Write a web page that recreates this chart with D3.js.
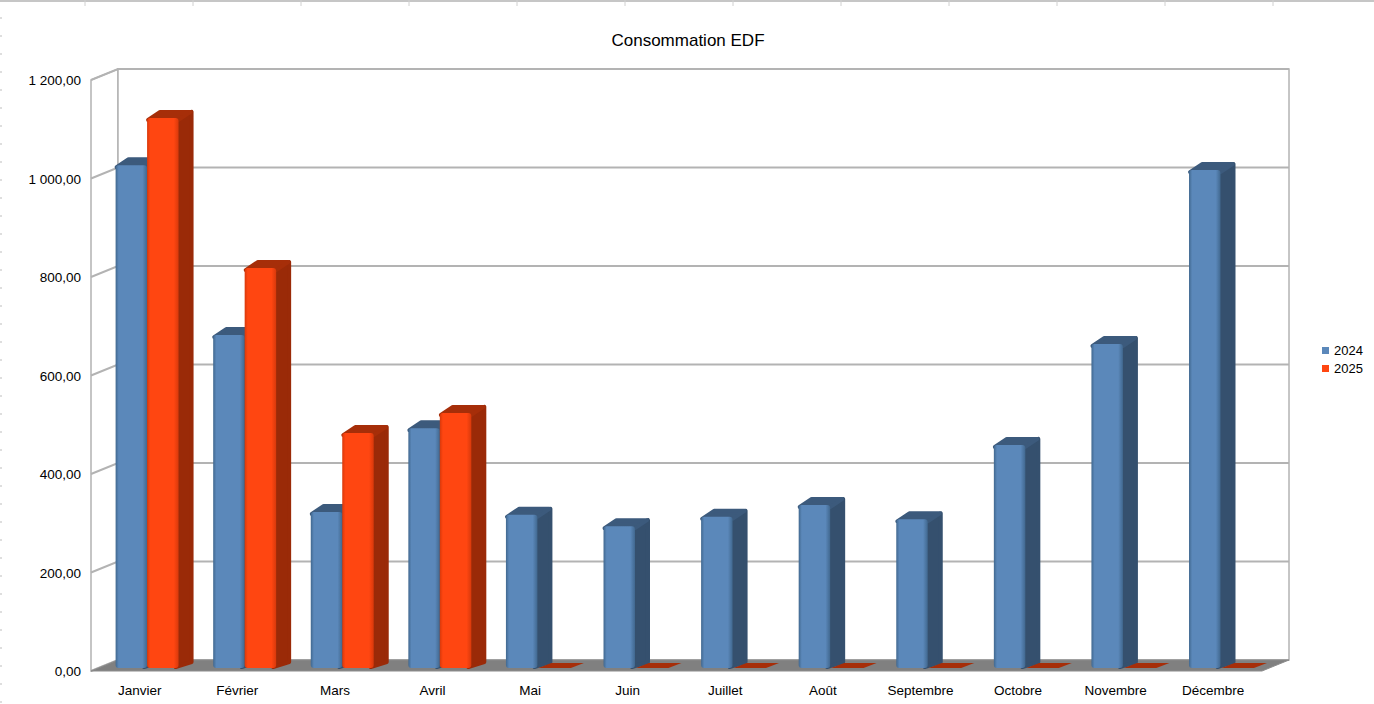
<!DOCTYPE html>
<html>
<head>
<meta charset="utf-8">
<script src="https://cdn.jsdelivr.net/npm/d3@7"></script>
<style>
    body { margin: 0; background: #fff; }
    svg { display: block; font-family: "Liberation Sans", Arial, sans-serif; }
</style>
</head>
<body>
<div data-chart></div>
<script>
const months = ['Janvier', 'Février', 'Mars', 'Avril', 'Mai', 'Juin', 'Juillet', 'Août', 'Septembre', 'Octobre', 'Novembre', 'Décembre']
const series = ['2024', '2025']
const values2024 = [1021, 676, 317, 487, 311, 288, 307, 331, 302, 453, 658, 1011]
const values2025 = [1117, 812, 477, 518, 0, 0, 0, 0, 0, 0, 0, 0]
const yTicks = [0, 200, 400, 600, 800, 1000, 1200]

const W = 1374, H = 704
// depth of the back wall, and of the bars
const DX = 27, DY = -11
const BAR_F = 0.27
const BDX = 13, BDY = -7

const colors = {
    '2024': { front: '#5b88ba', edge: '#41688f', side: '#35506e', top: '#3c5a7c' },
    '2025': { front: '#ff4611', edge: '#d8390b', side: '#9a2a08', top: '#a62e09' }
}

const locale = d3.formatLocale({ decimal: ',', thousands: ' ', grouping: [3], currency: ['', ' €'] })
const fmt = locale.format(',.2f')

let svg = d3.select('[data-chart]').append('svg')
    .attr('width', W)
    .attr('height', H)

// spreadsheet cell borders around the chart
svg.append('line')
    .attr('x1', 0).attr('x2', W).attr('y1', 1).attr('y2', 1)
    .attr('stroke', '#c6c6c6').attr('stroke-width', 2)
svg.append('g').selectAll('line')
    .data(d3.range(85, W, 108))
    .enter().append('line')
    .attr('x1', d => d).attr('x2', d => d).attr('y1', 0).attr('y2', 6)
    .attr('stroke', '#d0d0d0')
svg.append('g').selectAll('line')
    .data(d3.range(18, H, 18))
    .enter().append('line')
    .attr('x1', 0).attr('x2', 2).attr('y1', d => d).attr('y2', d => d)
    .attr('stroke', '#bdbdbd')

let x = d3.scaleBand().domain(months).range([91, 1262])
let xs = d3.scaleBand().domain(series).range([0, x.bandwidth()]).paddingOuter(0.55)
let y = d3.scaleLinear().domain([0, 1200]).range([671, 80])

const gridColor = '#b3b3b3'

// walls
svg.append('polygon')
    .attr('points', [[91, y(1200)], [91 + DX, y(1200) + DY], [91 + DX, y(0) + DY], [91, y(0)]].join(' '))
    .attr('fill', '#fff').attr('stroke', gridColor).attr('stroke-width', 1.5)
svg.append('rect')
    .attr('x', 91 + DX).attr('y', y(1200) + DY)
    .attr('width', 1262 - 91).attr('height', y(0) - y(1200))
    .attr('fill', '#fff').attr('stroke', gridColor).attr('stroke-width', 1.5)

// gridlines
svg.append('g').selectAll('polyline')
    .data(yTicks)
    .enter().append('polyline')
    .attr('points', d => [[91, y(d)], [91 + DX, y(d) + DY], [1262 + DX, y(d) + DY]].join(' '))
    .attr('fill', 'none').attr('stroke', gridColor).attr('stroke-width', 2)

// floor
svg.append('polygon')
    .attr('points', [[91, y(0)], [1262, y(0)], [1262 + DX, y(0) + DY], [91 + DX, y(0) + DY]].join(' '))
    .attr('fill', '#808080').attr('stroke', '#8c8c8c').attr('stroke-width', 1)

// y axis labels
svg.append('g').selectAll('text')
    .data(yTicks)
    .enter().append('text')
    .attr('x', 81).attr('y', d => y(d) + 5)
    .attr('text-anchor', 'end')
    .style('font-size', '13.5px')
    .text(d => fmt(d))

// gradients for the bar fronts
let defs = svg.append('defs')
series.forEach(s => {
    let g = defs.append('linearGradient').attr('id', 'grad' + s)
        .attr('x1', 0).attr('x2', 1).attr('y1', 0).attr('y2', 0)
    g.append('stop').attr('offset', '0%').attr('stop-color', colors[s].edge)
    g.append('stop').attr('offset', '10%').attr('stop-color', colors[s].front)
    g.append('stop').attr('offset', '85%').attr('stop-color', colors[s].front)
    g.append('stop').attr('offset', '100%').attr('stop-color', colors[s].edge)
})

let bars = []
months.forEach((m, i) => {
    bars.push({ month: m, serie: '2024', value: values2024[i] })
    bars.push({ month: m, serie: '2025', value: values2025[i] })
})

let offX = DX * BAR_F, offY = DY * BAR_F
let barG = svg.append('g')

bars.forEach(d => {
    let x0 = x(d.month) + xs(d.serie) + offX
    let x1 = x0 + xs.bandwidth()
    let yb = y(0) + offY
    let yt = y(d.value) + offY
    let c = colors[d.serie]
    let g = barG.append('g')

    if (d.value <= 0) {
        g.append('polygon')
            .attr('points', [[x0 + 1, yb], [x0 + 1 + BDX, yb + BDY + 2], [x1 + BDX + 2, yb + BDY + 2], [x1 + 2, yb]].join(' '))
            .attr('fill', c.top)
        return
    }

    // side face
    g.append('polygon')
        .attr('points', [[x1 - 3, yt + 1], [x1 + BDX, yt + BDY + 1], [x1 + BDX, yb + BDY + 1], [x1 - 3, yb - 1]].join(' '))
        .attr('fill', c.side).attr('stroke', c.side).attr('stroke-width', 4).attr('stroke-linejoin', 'round')
    // top face
    g.append('polygon')
        .attr('points', [[x0 + 1, yt + 2], [x0 + BDX, yt + BDY + 1], [x1 + BDX - 1, yt + BDY + 1], [x1, yt + 2]].join(' '))
        .attr('fill', c.top).attr('stroke', c.top).attr('stroke-width', 4).attr('stroke-linejoin', 'round')
    // front face
    g.append('rect')
        .attr('x', x0).attr('y', yt)
        .attr('width', xs.bandwidth()).attr('height', yb - yt)
        .attr('rx', 3)
        .attr('fill', 'url(#grad' + d.serie + ')')
})

// x axis labels
svg.append('g').selectAll('text')
    .data(months)
    .enter().append('text')
    .attr('x', d => x(d) + x.bandwidth() / 2)
    .attr('y', 695)
    .attr('text-anchor', 'middle')
    .style('font-size', '13.5px')
    .text(d => d)

// title
svg.append('text')
    .attr('x', 688).attr('y', 46)
    .attr('text-anchor', 'middle')
    .style('font-size', '17px')
    .text('Consommation EDF')

// legend
let legend = svg.append('g').selectAll('g')
    .data(series)
    .enter().append('g')
    .attr('transform', (d, i) => 'translate(1322,' + (347 + i * 18) + ')')
legend.append('rect')
    .attr('width', 7).attr('height', 7)
    .attr('fill', d => colors[d].front)
legend.append('text')
    .attr('x', 12).attr('y', 8)
    .style('font-size', '13px')
    .text(d => d)
</script>
</body>
</html>
